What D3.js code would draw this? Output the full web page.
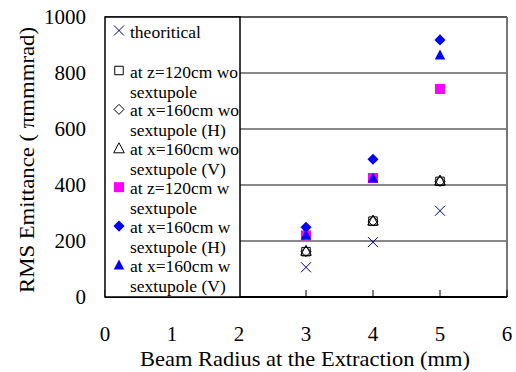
<!DOCTYPE html>
<html><head><meta charset="utf-8">
<script src="https://cdn.jsdelivr.net/npm/d3@7"></script>
<style>body{margin:0;background:#fff}svg{display:block}text{font-family:"Liberation Serif","Times New Roman",serif;fill:#000}</style>
</head><body><svg id="c" width="516" height="372"></svg>
<script>
const radius = [3, 4, 5];
const theoretical = [106, 196, 308];
const zWo = [162, 271, 413];
const xWoH = [162, 271, 413];
const xWoV = [165, 273, 416];
const zW = [220, 425, 743];
const xWH = [249, 492, 918];
const xWV = [221, 425, 864];
const xTicks = [0, 1, 2, 3, 4, 5, 6];
const yTicks = [0, 200, 400, 600, 800, 1000];
const legendLabels = [
  ["theoritical"],
  ["at z=120cm wo", "sextupole"],
  ["at x=160cm wo", "sextupole (H)"],
  ["at x=160cm wo", "sextupole (V)"],
  ["at z=120cm w", "sextupole"],
  ["at x=160cm w", "sextupole (H)"],
  ["at x=160cm w", "sextupole (V)"]
];

const svg = d3.select("#c");
const x = d3.scaleLinear().domain([0, 6]).range([105, 507]);
const y = d3.scaleLinear().domain([0, 1000]).range([297, 17]);

const diamond = {draw(ctx, size){const r = Math.sqrt(size)/2*1.25; ctx.moveTo(0,-r); ctx.lineTo(r,0); ctx.lineTo(0,r); ctx.lineTo(-r,0); ctx.closePath();}};
const cross = {draw(ctx, size){const r = Math.sqrt(size)/2; ctx.moveTo(-r,-r); ctx.lineTo(r,r); ctx.moveTo(r,-r); ctx.lineTo(-r,r);}};
const tri = {draw(ctx, size){const r = Math.sqrt(size)/2; ctx.moveTo(0,-r*1.1); ctx.lineTo(r*1.05,r*0.9); ctx.lineTo(-r*1.05,r*0.9); ctx.closePath();}};

const series = [
  {vals: theoretical, type: cross, size: 100, fill: "none", stroke: "#000080", sw: 1},
  {vals: zWo, type: d3.symbolSquare, size: 72, fill: "none", stroke: "#000", sw: 1},
  {vals: xWoH, type: diamond, size: 64, fill: "none", stroke: "#000", sw: 1},
  {vals: xWoV, type: tri, size: 100, fill: "none", stroke: "#000", sw: 1},
  {vals: zW, type: d3.symbolSquare, size: 100, fill: "#ff00ff", stroke: "none", sw: 0},
  {vals: xWH, type: diamond, size: 80, fill: "#0000ff", stroke: "none", sw: 0},
  {vals: xWV, type: tri, size: 100, fill: "#0000ff", stroke: "none", sw: 0}
];

// gridlines
svg.append("g").selectAll("line").data(yTicks.filter(v => v > 0 && v < 1000)).join("line")
  .attr("x1", x(0)).attr("x2", x(6)).attr("y1", d => y(d)).attr("y2", d => y(d))
  .attr("stroke", "#111").attr("stroke-width", 1);
// border
svg.append("line").attr("x1", x(0)).attr("x2", x(6)).attr("y1", y(1000)).attr("y2", y(1000)).attr("stroke", "#222").attr("stroke-width", 1.5);
svg.append("line").attr("x1", x(6)).attr("x2", x(6)).attr("y1", y(1000)).attr("y2", y(0)).attr("stroke", "#777").attr("stroke-width", 2);
// x axis
svg.append("line").attr("x1", x(0)).attr("x2", x(6)).attr("y1", y(0)).attr("y2", y(0)).attr("stroke", "#000").attr("stroke-width", 2);
svg.append("g").selectAll("line").data(xTicks).join("line")
  .attr("x1", d => x(d)).attr("x2", d => x(d)).attr("y1", y(0)).attr("y2", y(0) - 7)
  .attr("stroke", "#000").attr("stroke-width", 1);
svg.append("g").selectAll("text").data(xTicks).join("text")
  .attr("x", d => x(d)).attr("y", 341).attr("text-anchor", "middle")
  .style("font-size", "21px").text(d => d);
svg.append("g").selectAll("text").data(yTicks).join("text")
  .attr("x", 86).attr("y", d => y(d) + 7).attr("text-anchor", "end")
  .style("font-size", "21px").text(d => d);
svg.append("text").attr("x", 305).attr("y", 366).attr("text-anchor", "middle")
  .attr("textLength", 330).attr("lengthAdjust", "spacingAndGlyphs")
  .style("font-size", "21px").text("Beam Radius at the Extraction (mm)");
svg.append("text").attr("transform", "translate(34,160) rotate(-90)").attr("text-anchor", "middle")
  .attr("textLength", 266).attr("lengthAdjust", "spacingAndGlyphs")
  .style("font-size", "21px").text("RMS Emittance ( πmmmrad)");

// points
series.forEach(s => {
  svg.append("g").selectAll("path").data(s.vals).join("path")
    .attr("transform", (d, i) => `translate(${x(radius[i])},${y(d)})`)
    .attr("d", d3.symbol().type(s.type).size(s.size))
    .attr("fill", s.fill).attr("stroke", s.stroke).attr("stroke-width", s.sw);
});

// legend
const lg = svg.append("g");
lg.append("rect").attr("x", x(0)).attr("y", y(1000)).attr("width", 135).attr("height", y(0) - y(1000))
  .attr("fill", "#fff").attr("stroke", "#000").attr("stroke-width", 1.5);
legendLabels.forEach((lines, i) => {
  const cy = i === 0 ? 31.5 : 71.5 + (i - 1) * 38.9;
  const s = series[i];
  lg.append("path").attr("transform", `translate(119,${cy - 1})`)
    .attr("d", d3.symbol().type(s.type).size(s.size))
    .attr("fill", s.fill).attr("stroke", s.stroke).attr("stroke-width", s.sw);
  lines.forEach((t, j) => {
    lg.append("text").attr("x", 130).attr("y", cy + 6 + j * 20).style("font-size", "17.5px").text(t);
  });
});
</script></body></html>
